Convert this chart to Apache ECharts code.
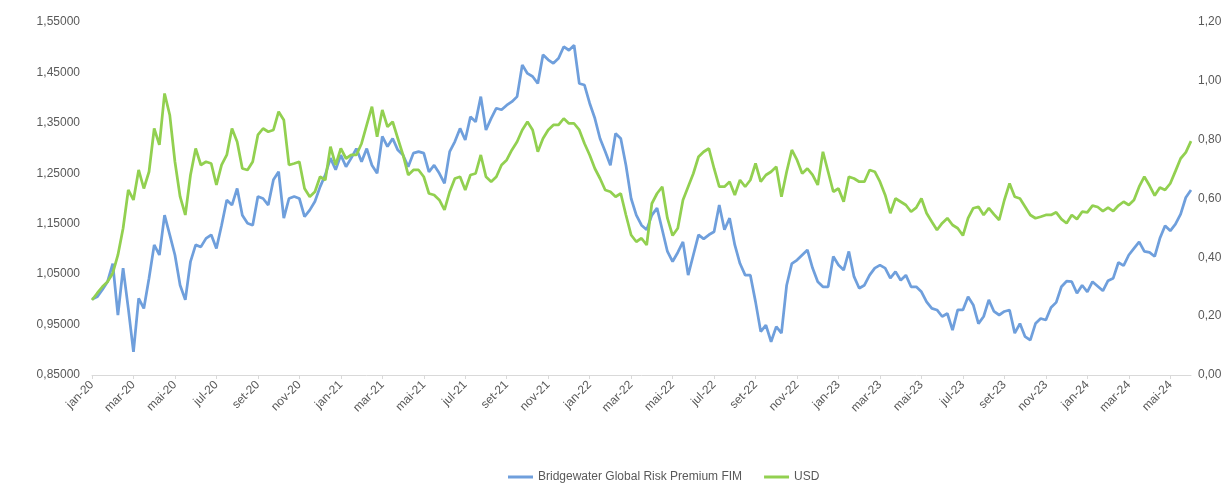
<!DOCTYPE html>
<html>
<head>
<meta charset="utf-8">
<script src="https://cdn.jsdelivr.net/npm/echarts@6/dist/echarts.min.js"></script>
<style>
    html, body { margin: 0; padding: 0; background: #fff; }
    #chart { width: 1230px; height: 485px; }
</style>
</head>
<body>
<div id="chart"></div>
<script>
// x labels, one every 2 months starting jan-20
var tickLabels = ['jan-20', 'mar-20', 'mai-20', 'jul-20', 'set-20', 'nov-20',
    'jan-21', 'mar-21', 'mai-21', 'jul-21', 'set-21', 'nov-21',
    'jan-22', 'mar-22', 'mai-22', 'jul-22', 'set-22', 'nov-22',
    'jan-23', 'mar-23', 'mai-23', 'jul-23', 'set-23', 'nov-23',
    'jan-24', 'mar-24', 'mai-24'];

var seriesNames = ['Bridgewater Global Risk Premium FIM', 'USD'];

// one value every quarter of a month (about weekly), from jan-20
var bridgewater = [
    1.000, 1.005, 1.019, 1.035, 1.071, 0.969, 1.062, 0.982, 0.896, 1.002,
    0.982, 1.042, 1.108, 1.088, 1.167, 1.128, 1.088, 1.028, 0.999, 1.075,
    1.108, 1.104, 1.121, 1.128, 1.101, 1.147, 1.197, 1.187, 1.220, 1.167,
    1.151, 1.147, 1.204, 1.200, 1.187, 1.237,
    1.253, 1.161, 1.200, 1.204, 1.200, 1.164, 1.177, 1.194, 1.223, 1.247,
    1.280, 1.257, 1.286, 1.263, 1.280, 1.299, 1.273, 1.299, 1.266, 1.250,
    1.323, 1.303, 1.319, 1.296, 1.286, 1.263, 1.290, 1.293, 1.290, 1.253,
    1.266, 1.250, 1.230, 1.293, 1.313,
    1.339, 1.316, 1.362, 1.352, 1.402, 1.336, 1.359, 1.379, 1.376, 1.385,
    1.392, 1.402, 1.465, 1.448, 1.442, 1.428, 1.485, 1.475, 1.468, 1.478,
    1.501, 1.494, 1.504, 1.428, 1.425, 1.389, 1.359, 1.319, 1.293, 1.266,
    1.329, 1.319, 1.266, 1.200, 1.167,
    1.147, 1.138, 1.167, 1.181, 1.138, 1.095, 1.075, 1.093, 1.114, 1.048,
    1.088, 1.128, 1.120, 1.128, 1.134, 1.187, 1.138, 1.161, 1.108, 1.071,
    1.048, 1.048, 0.995, 0.936, 0.949, 0.916, 0.946, 0.933, 1.028, 1.071,
    1.078, 1.088, 1.098, 1.062, 1.035,
    1.025, 1.025, 1.085, 1.068, 1.058, 1.095, 1.045, 1.022, 1.028, 1.048,
    1.062, 1.068, 1.062, 1.042, 1.055, 1.038, 1.048, 1.025, 1.025, 1.015,
    0.995, 0.982, 0.979, 0.966, 0.972, 0.939, 0.979, 0.979, 1.005, 0.989,
    0.952, 0.966, 0.999, 0.976,
    0.969, 0.976, 0.979, 0.933, 0.952, 0.926, 0.919, 0.952, 0.962, 0.959,
    0.984, 0.994, 1.025, 1.036, 1.035, 1.012, 1.028, 1.015, 1.035, 1.026,
    1.017, 1.037, 1.042, 1.073, 1.067, 1.088, 1.101, 1.114, 1.095, 1.093,
    1.085, 1.121, 1.146, 1.136, 1.149, 1.169, 1.202, 1.217
];

var usd = [
    0.255, 0.278, 0.300, 0.317, 0.346, 0.408, 0.499, 0.629, 0.595, 0.697,
    0.634, 0.691, 0.838, 0.782, 0.957, 0.884, 0.725, 0.606, 0.544, 0.680,
    0.770, 0.714, 0.725, 0.719, 0.646, 0.714, 0.748, 0.838, 0.793, 0.702,
    0.697, 0.725, 0.816, 0.838, 0.827, 0.833,
    0.895, 0.867, 0.714, 0.719, 0.725, 0.634, 0.606, 0.623, 0.674, 0.663,
    0.776, 0.714, 0.770, 0.736, 0.748, 0.748, 0.787, 0.850, 0.912, 0.810,
    0.901, 0.844, 0.861, 0.804, 0.748, 0.680, 0.697, 0.697, 0.674, 0.617,
    0.612, 0.595, 0.561, 0.623, 0.668,
    0.674, 0.629, 0.680, 0.685, 0.748, 0.674, 0.657, 0.674, 0.714, 0.731,
    0.765, 0.793, 0.833, 0.861, 0.833, 0.759, 0.804, 0.833, 0.850, 0.850,
    0.872, 0.855, 0.855, 0.833, 0.787, 0.748, 0.702, 0.668, 0.629, 0.623,
    0.606, 0.617, 0.544, 0.476, 0.453,
    0.465, 0.442, 0.583, 0.617, 0.640, 0.533, 0.474, 0.499, 0.595, 0.640,
    0.685, 0.742, 0.759, 0.770, 0.702, 0.640, 0.640, 0.657, 0.612, 0.663,
    0.640, 0.663, 0.719, 0.657, 0.680, 0.691, 0.708, 0.606, 0.691, 0.765,
    0.731, 0.685, 0.702, 0.680, 0.646,
    0.759, 0.691, 0.623, 0.634, 0.589, 0.674, 0.668, 0.657, 0.657, 0.697,
    0.691, 0.657, 0.612, 0.550, 0.600, 0.589, 0.578, 0.555, 0.569, 0.600,
    0.550, 0.521, 0.493, 0.516, 0.533, 0.510, 0.499, 0.474, 0.533, 0.567,
    0.572, 0.544, 0.567, 0.546,
    0.527, 0.595, 0.651, 0.606, 0.600, 0.572, 0.544, 0.533, 0.538, 0.544,
    0.544, 0.553, 0.530, 0.516, 0.544, 0.530, 0.555, 0.553, 0.576, 0.571,
    0.557, 0.569, 0.557, 0.576, 0.589, 0.578, 0.595, 0.640, 0.674, 0.644,
    0.610, 0.637, 0.629, 0.651, 0.693, 0.736, 0.757, 0.795
];

var STEP = 0.25; // months between two points

function toPoints(arr) {
    return arr.map(function (v, i) { return [i * STEP, v]; });
}

var tickValues = tickLabels.map(function (l, i) { return i * 2; });
var textColor = '#595959';
var font = 'Liberation Sans';

var chart = echarts.init(document.getElementById('chart'));
var option = {
    animation: false,
    backgroundColor: '#fff',
    grid: {left: 92, right: 39, top: 22, bottom: 110, containLabel: false},
    legend: {
        left: 503,
        top: 466,
        itemWidth: 25,
        itemHeight: 3,
        itemGap: 22,
        icon: 'rect',
        textStyle: {color: textColor, fontSize: 12, fontFamily: font},
        data: seriesNames
    },
    xAxis: {
        type: 'value',
        min: 0,
        max: 53,
        interval: 2,
        splitLine: {show: false},
        axisLine: {show: true, lineStyle: {color: '#d9d9d9', width: 1}},
        axisTick: {show: true, length: 4, lineStyle: {color: '#d9d9d9'}, customValues: tickValues},
        axisLabel: {
            rotate: 45,
            margin: 8,
            color: textColor,
            fontSize: 12,
            fontFamily: font,
            customValues: tickValues,
            formatter: function (v) {
                var i = Math.round(v / 2);
                return (Math.abs(v - i * 2) < 1e-6 && tickLabels[i]) ? tickLabels[i] : '';
            }
        }
    },
    yAxis: [
        {
            type: 'value',
            min: 0.85,
            max: 1.55,
            interval: 0.1,
            splitLine: {show: false},
            axisLine: {show: false},
            axisTick: {show: false},
            axisLabel: {
                margin: 12,
                color: textColor,
                fontSize: 12,
                fontFamily: font,
                formatter: function (v) { return v.toFixed(5).replace('.', ','); }
            }
        },
        {
            type: 'value',
            min: 0,
            max: 1.2,
            interval: 0.2,
            position: 'right',
            splitLine: {show: false},
            axisLine: {show: false},
            axisTick: {show: false},
            axisLabel: {
                margin: 7,
                color: textColor,
                fontSize: 12,
                fontFamily: font,
                formatter: function (v) { return v.toFixed(2).replace('.', ','); }
            }
        }
    ],
    series: [
        {
            name: seriesNames[0],
            type: 'line',
            yAxisIndex: 0,
            showSymbol: false,
            symbol: 'none',
            color: '#6f9fdc',
            lineStyle: {width: 2.75, color: '#6f9fdc'},
            data: toPoints(bridgewater)
        },
        {
            name: seriesNames[1],
            type: 'line',
            yAxisIndex: 1,
            showSymbol: false,
            symbol: 'none',
            color: '#92d050',
            lineStyle: {width: 2.75, color: '#92d050'},
            data: toPoints(usd)
        }
    ]
};
chart.setOption(option);
</script>
</body>
</html>
